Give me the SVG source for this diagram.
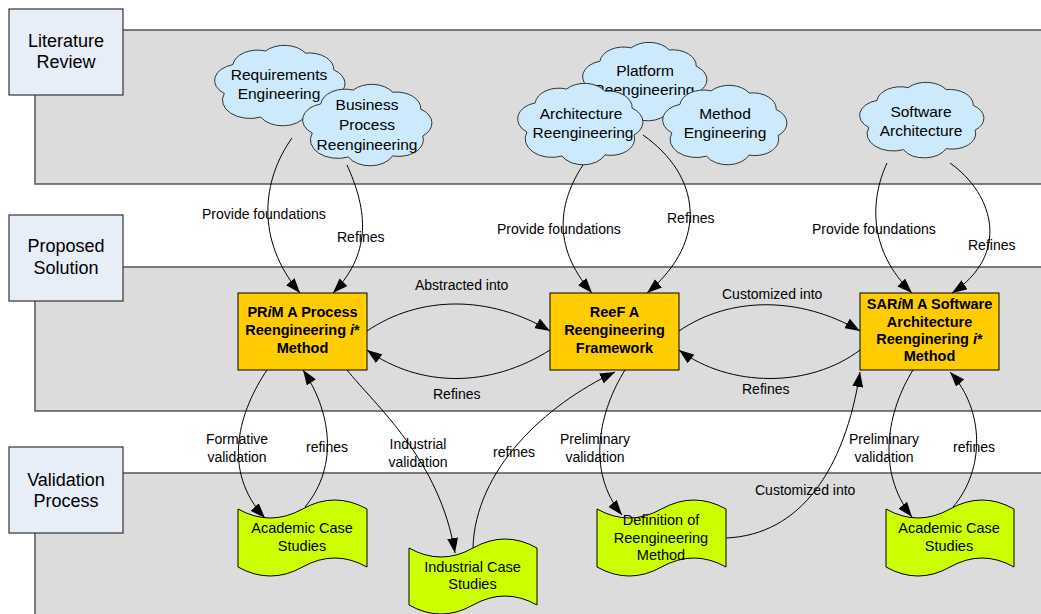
<svg xmlns="http://www.w3.org/2000/svg" width="1041" height="614" viewBox="0 0 1041 614">
  <style>
    text { font-family: "Liberation Sans", Arial, sans-serif; fill: #000; }
    .lane { fill: #dcdcdc; stroke: #555; stroke-width: 1.5; }
    .lanelabel { fill: #e8eef8; stroke: #333; stroke-width: 1.2; }
    .lanetext { font-size: 18px; text-anchor: middle; }
    .cloud { fill: #cdeafc; stroke: #333; stroke-width: 1; vector-effect: non-scaling-stroke; }
    .cloudtext { font-size: 15.5px; text-anchor: middle; }
    .box { fill: #ffcc00; stroke: #000; stroke-width: 1; }
    .boxtext { font-size: 14.5px; font-weight: bold; text-anchor: middle; }
    .doc { fill: #ccff00; stroke: #000; stroke-width: 1; }
    .doctext { font-size: 14.5px; text-anchor: middle; }
    .edge { fill: none; stroke: #000; stroke-width: 1; marker-end: url(#arrow); }
    .elabel { font-size: 14px; }
    .elabel-c { font-size: 14px; text-anchor: middle; }
  </style>
  <defs>
    <marker id="arrow" markerUnits="userSpaceOnUse" markerWidth="15" markerHeight="11" viewBox="0 0 15 11" refX="15" refY="5.5" orient="auto">
      <path d="M0,0 L15,5.5 L0,11 Z" fill="#000"/>
    </marker>
    <!-- generic cloud outline, bounding box roughly x 5..94, y 11..95 -->
    <path id="cloudShape" class="cloud" d="M11.4,61.3 A17,17 0 0 1 17.2,31.4 A17,17 0 0 1 39.6,17.2 A17,17 0 0 1 66.9,19.4 A17,17 0 0 1 86.3,36.8 A17,17 0 0 1 87.6,64.3 A17,17 0 0 1 66.9,84.6 A17,17 0 0 1 36.3,85.8 A19,19 0 0 1 11.4,61.3 Z"/>
  </defs>

  <!-- swimlanes -->
  <g id="lanes">
    <rect class="lane" x="35" y="30" width="1030" height="154"/>
    <rect class="lane" x="35" y="267" width="1030" height="144"/>
    <rect class="lane" x="35" y="473" width="1030" height="170"/>
  </g>
  <g id="lane-literature">
    <rect class="lanelabel" x="9" y="9" width="114" height="86"/>
    <text class="lanetext" x="66" y="47">Literature</text>
    <text class="lanetext" x="66" y="68">Review</text>
  </g>
  <g id="lane-proposed">
    <rect class="lanelabel" x="9" y="215" width="114" height="86"/>
    <text class="lanetext" x="66" y="252">Proposed</text>
    <text class="lanetext" x="66" y="274">Solution</text>
  </g>
  <g id="lane-validation">
    <rect class="lanelabel" x="9" y="447" width="114" height="86"/>
    <text class="lanetext" x="66" y="486">Validation</text>
    <text class="lanetext" x="66" y="507">Process</text>
  </g>

  <!-- literature clouds -->
  <g id="cloud-requirements">
    <use href="#cloudShape" transform="translate(207.7,34.4) scale(1.461,0.964)"/>
    <text class="cloudtext" x="279" y="80">Requirements</text>
    <text class="cloudtext" x="279" y="99">Engineering</text>
  </g>
  <g id="cloud-bpr">
    <use href="#cloudShape" transform="translate(295.75,73.26) scale(1.449,0.976)"/>
    <text class="cloudtext" x="367" y="110">Business</text>
    <text class="cloudtext" x="367" y="130">Process</text>
    <text class="cloudtext" x="367" y="150">Reengineering</text>
  </g>
  <g id="cloud-platform">
    <use href="#cloudShape" transform="translate(576,31.7) scale(1.393,0.94)"/>
    <text class="cloudtext" x="645" y="76">Platform</text>
    <text class="cloudtext" x="644" y="95">Reengineering</text>
  </g>
  <g id="cloud-architecture">
    <use href="#cloudShape" transform="translate(511,72.26) scale(1.404,0.976)"/>
    <text class="cloudtext" x="581" y="119">Architecture</text>
    <text class="cloudtext" x="583" y="138">Reengineering</text>
  </g>
  <g id="cloud-method">
    <use href="#cloudShape" transform="translate(656,74.5) scale(1.393,0.952)"/>
    <text class="cloudtext" x="725" y="119">Method</text>
    <text class="cloudtext" x="725" y="138">Engineering</text>
  </g>
  <g id="cloud-software">
    <use href="#cloudShape" transform="translate(853,72.05) scale(1.393,0.905)"/>
    <text class="cloudtext" x="921" y="117">Software</text>
    <text class="cloudtext" x="921" y="136">Architecture</text>
  </g>

  <!-- proposed solution boxes -->
  <g id="node-prim">
    <rect class="box" x="238" y="293" width="129" height="77"/>
    <text class="boxtext" x="302.5" y="317">PR<tspan font-style="italic">i</tspan>M A Process</text>
    <text class="boxtext" x="302.5" y="335">Reengineering <tspan font-style="italic">i</tspan>*</text>
    <text class="boxtext" x="302.5" y="353">Method</text>
  </g>
  <g id="node-reef">
    <rect class="box" x="550" y="293" width="129" height="77"/>
    <text class="boxtext" x="614.5" y="317">ReeF A</text>
    <text class="boxtext" x="614.5" y="335">Reengineering</text>
    <text class="boxtext" x="614.5" y="353">Framework</text>
  </g>
  <g id="node-sarim">
    <rect class="box" x="860" y="293" width="139" height="77"/>
    <text class="boxtext" x="929.5" y="309">SAR<tspan font-style="italic">i</tspan>M A Software</text>
    <text class="boxtext" x="929.5" y="327">Architecture</text>
    <text class="boxtext" x="929.5" y="344">Reenginering <tspan font-style="italic">i</tspan>*</text>
    <text class="boxtext" x="929.5" y="361">Method</text>
  </g>

  <!-- validation documents -->
  <g id="doc-academic-1">
    <path class="doc" d="M238,509 q32.25,18 64.5,0 t64.5,0 L367,567 q-32.25,-18 -64.5,0 t-64.5,0 Z"/>
    <text class="doctext" x="302" y="533">Academic Case</text>
    <text class="doctext" x="302" y="551">Studies</text>
  </g>
  <g id="doc-industrial">
    <path class="doc" d="M409,548 q32,18 64,0 t64,0 L537,605 q-32,-18 -64,0 t-64,0 Z"/>
    <text class="doctext" x="472.5" y="572">Industrial Case</text>
    <text class="doctext" x="472.5" y="589">Studies</text>
  </g>
  <g id="doc-definition">
    <path class="doc" d="M597,509 q32.25,18 64.5,0 t64.5,0 L726,567 q-32.25,-18 -64.5,0 t-64.5,0 Z"/>
    <text class="doctext" x="661" y="525">Definition of</text>
    <text class="doctext" x="661" y="543">Reengineering</text>
    <text class="doctext" x="661" y="560">Method</text>
  </g>
  <g id="doc-academic-2">
    <path class="doc" d="M886,509 q32,18 64,0 t64,0 L1014,567 q-32,-18 -64,0 t-64,0 Z"/>
    <text class="doctext" x="949" y="533">Academic Case</text>
    <text class="doctext" x="949" y="551">Studies</text>
  </g>

  <!-- connectors -->
  <g id="connectors">
    <path class="edge" d="M292,138 C262,180 255,240 300,293"/>
    <path class="edge" d="M347,165 C365,205 375,250 333,293"/>
    <path class="edge" d="M583,165 C560,200 550,245 592,293"/>
    <path class="edge" d="M643,135 C700,175 710,240 647,293"/>
    <path class="edge" d="M887,163 C870,200 868,250 912,293"/>
    <path class="edge" d="M950,163 C995,195 1010,255 952,293"/>
    <path class="edge" d="M367,331 C420,295 490,295 550,331"/>
    <path class="edge" d="M550,350 C490,388 420,388 367,350"/>
    <path class="edge" d="M679,331 C730,296 800,296 860,331"/>
    <path class="edge" d="M860,350 C810,388 730,388 679,350"/>
    <path class="edge" d="M267,370 C240,410 220,470 265,518"/>
    <path class="edge" d="M305,507 C340,465 330,410 303,370"/>
    <path class="edge" d="M347,370 C375,405 440,460 455,553"/>
    <path class="edge" d="M473,548 C475,470 545,405 615,372"/>
    <path class="edge" d="M625,370 C600,410 585,470 622,515"/>
    <path class="edge" d="M726,538 C800,535 845,470 860,372"/>
    <path class="edge" d="M913,370 C888,410 875,470 912,517"/>
    <path class="edge" d="M953,507 C985,470 985,410 950,372"/>

    <text class="elabel" x="202" y="219">Provide foundations</text>
    <text class="elabel" x="337" y="242">Refines</text>
    <text class="elabel" x="497" y="234">Provide foundations</text>
    <text class="elabel" x="667" y="223">Refines</text>
    <text class="elabel" x="812" y="234">Provide foundations</text>
    <text class="elabel" x="968" y="250">Refines</text>
    <text class="elabel" x="415" y="290">Abstracted into</text>
    <text class="elabel" x="433" y="399">Refines</text>
    <text class="elabel" x="722" y="299">Customized into</text>
    <text class="elabel" x="742" y="394">Refines</text>
    <text class="elabel-c" x="237" y="444">Formative</text>
    <text class="elabel-c" x="237" y="462">validation</text>
    <text class="elabel" x="306" y="452">refines</text>
    <text class="elabel-c" x="418" y="449">Industrial</text>
    <text class="elabel-c" x="418" y="467">validation</text>
    <text class="elabel" x="493" y="457">refines</text>
    <text class="elabel-c" x="595" y="444">Preliminary</text>
    <text class="elabel-c" x="595" y="462">validation</text>
    <text class="elabel" x="755" y="495">Customized into</text>
    <text class="elabel-c" x="884" y="444">Preliminary</text>
    <text class="elabel-c" x="884" y="462">validation</text>
    <text class="elabel" x="953" y="452">refines</text>
  </g>
</svg>
